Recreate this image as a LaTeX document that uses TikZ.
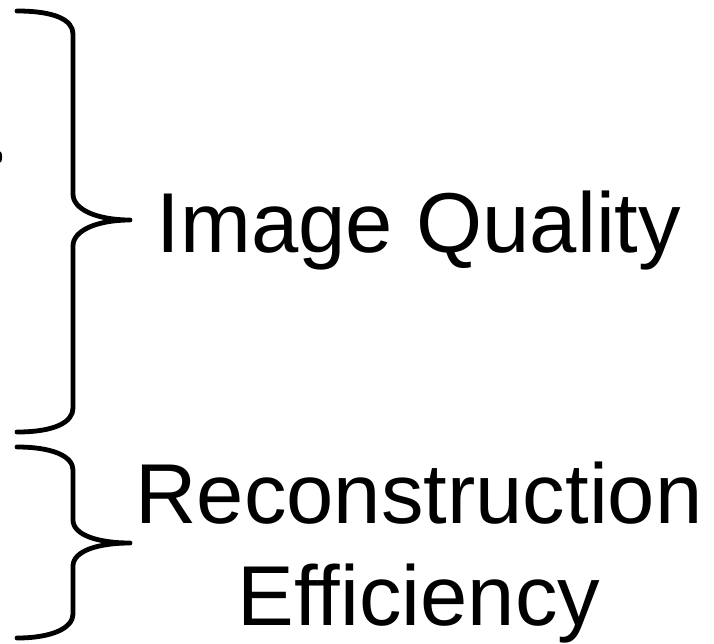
\documentclass[tikz,border=0pt]{standalone}
\usepackage{fontspec}
\setmainfont{Liberation Sans}
\usepackage{tikz}

\begin{document}
\begin{tikzpicture}[x=1pt, y=-1pt,
  brace/.style={draw=black, line width=4.8pt, line cap=round, line join=round},
  label/.style={font=\fontsize{85}{102}\selectfont, inner sep=0pt, align=center}]
\useasboundingbox (0,0) rectangle (714,643);

%% clipped glyph at the left edge
\draw[line width=2pt] (0,152) .. controls (1.5,155) and (1.5,159) .. (0,162);

%% upper brace
\draw[brace] (17,11) .. controls (55,11) and (73,20) .. (73,34)
  -- (73,194) .. controls (73,210) and (98,220) .. (130,220)
  .. controls (98,220) and (73,230) .. (73,246)
  -- (73,408) .. controls (73,422) and (55,432) .. (17,432);
\node[label, anchor=base] (quality) at (419,252) {Image Quality};

%% lower brace
\draw[brace] (17,447) .. controls (52,447) and (73,456) .. (73,470)
  -- (73,520) .. controls (73,535) and (98,543) .. (130,543)
  .. controls (98,543) and (73,551) .. (73,566)
  -- (73,614) .. controls (73,628) and (52,638) .. (17,638);
\node[label, anchor=base] (efficiency) at (419,625) {Reconstruction\\Efficiency};
\end{tikzpicture}
\end{document}
